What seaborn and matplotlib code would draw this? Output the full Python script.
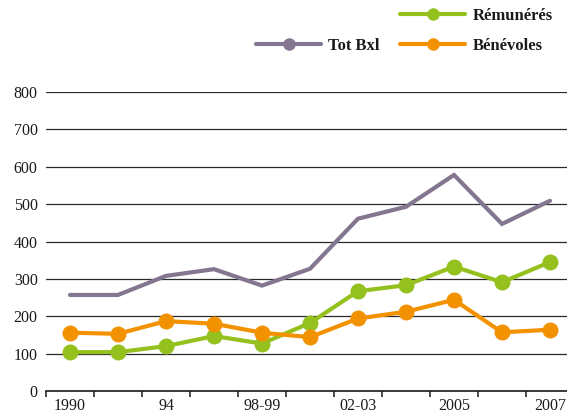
import pandas as pd
import seaborn as sns
import matplotlib
matplotlib.use("Agg")
import matplotlib.pyplot as plt
from matplotlib.lines import Line2D
from matplotlib.ticker import FixedLocator

# periods along the x axis (only every other one is labelled in the source)
periodes = ["1990", "", "94", "", "98-99", "", "02-03", "", "2005", "", "2007"]
tot_bxl = [257, 257, 308, 326, 282, 327, 461, 493, 578, 447, 509]
remuneres = [104, 104, 120, 147, 127, 182, 267, 283, 333, 291, 345]
benevoles = [156, 153, 187, 180, 156, 144, 194, 212, 244, 157, 164]

couleurs = {"Tot Bxl": "#85768f", "Rémunérés": "#95c11f", "Bénévoles": "#f39200"}

pos = list(range(len(periodes)))
df = pd.DataFrame({"pos": pos, "Tot Bxl": tot_bxl,
                   "Rémunérés": remuneres, "Bénévoles": benevoles})

sns.set_theme(style="white")
plt.rcParams["font.family"] = ["Liberation Serif", "DejaVu Serif"]
plt.rcParams["text.color"] = "#1a1a1a"

fig = plt.figure(figsize=(5.67, 4.16), dpi=100)
ax = fig.add_axes([46 / 567, 25 / 416, 521 / 567, 299 / 416])

sns.lineplot(data=df, x="pos", y="Tot Bxl", ax=ax, color=couleurs["Tot Bxl"],
             lw=3.0, solid_joinstyle="miter")
sns.lineplot(data=df, x="pos", y="Rémunérés", ax=ax, color=couleurs["Rémunérés"],
             lw=3.0, marker="o", markersize=11.5, markeredgewidth=0)
sns.lineplot(data=df, x="pos", y="Bénévoles", ax=ax, color=couleurs["Bénévoles"],
             lw=3.0, marker="o", markersize=11.5, markeredgewidth=0)

ax.set_ylim(0, 800)
ax.set_xlim(-0.5, 10.354)
ax.set_xlabel("")
ax.set_ylabel("")

ax.set_yticks(range(0, 801, 100))
ax.yaxis.grid(True, color="#2a2a2a", lw=0.9)
ax.set_axisbelow(True)
ax.tick_params(axis="y", length=0, pad=6, labelsize=11.5, labelcolor="#1a1a1a")

ax.set_xticks(pos)
ax.set_xticklabels(periodes)
ax.xaxis.set_minor_locator(FixedLocator([p - 0.5 for p in pos]))
ax.tick_params(axis="x", which="major", length=0, pad=5, labelsize=11.5,
               labelcolor="#1a1a1a")
ax.tick_params(axis="x", which="minor", bottom=True, length=4.5, width=1.1,
               color="#1a1a1a", direction="out")

for s in ["left", "top", "right"]:
    ax.spines[s].set_visible(False)
ax.spines["bottom"].set_color("#1a1a1a")
ax.spines["bottom"].set_linewidth(1.2)

def poignee(c):
    return Line2D([], [], color=c, lw=3.0, marker="o", markersize=9,
                  markeredgewidth=0)

vide = Line2D([], [], color="none")
handles = [vide, poignee(couleurs["Tot Bxl"]),
           poignee(couleurs["Rémunérés"]), poignee(couleurs["Bénévoles"])]
labels = ["", "Tot Bxl", "Rémunérés", "Bénévoles"]
fig.legend(handles, labels, ncol=2, loc="upper left",
           bbox_to_anchor=(256 / 567, 1 - 8 / 416), frameon=False,
           borderpad=0, borderaxespad=0, handlelength=3.9, handletextpad=0.45,
           columnspacing=1.2, labelspacing=0.85,
           prop={"size": 12, "weight": "bold"})

fig.savefig("out.png", dpi=100)
